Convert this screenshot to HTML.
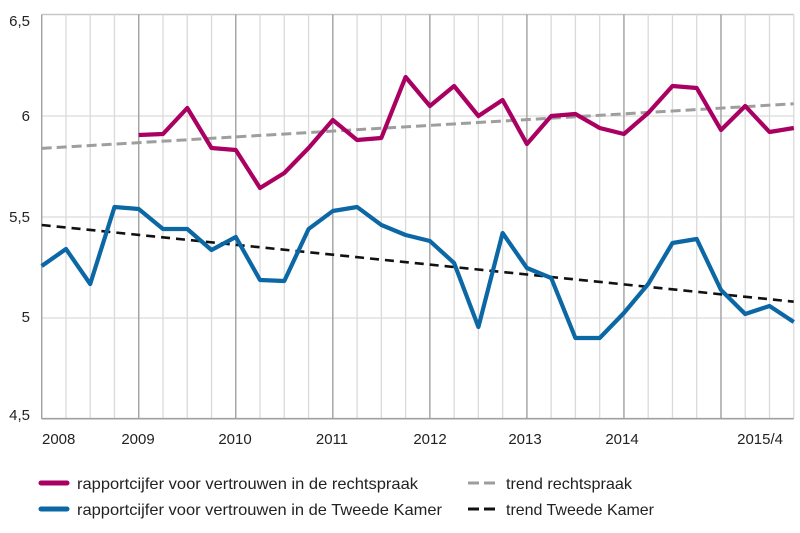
<!DOCTYPE html>
<html>
<head>
<meta charset="utf-8">
<style>
  html, body { margin: 0; padding: 0; background: #fff; }
  svg { display: block; }
  text { font-family: "Liberation Sans", "DejaVu Sans", sans-serif; fill: #222; }
</style>
</head>
<body>
<svg width="800" height="533" viewBox="0 0 800 533" xmlns="http://www.w3.org/2000/svg">
  <rect width="800" height="533" fill="#fff"/>
  <g id="grid" stroke-width="1.3">
    <!-- horizontal -->
    <line x1="41.7" y1="116" x2="793.7" y2="116" stroke="#dadada"/>
    <line x1="41.7" y1="217" x2="793.7" y2="217" stroke="#dadada"/>
    <line x1="41.7" y1="318" x2="793.7" y2="318" stroke="#dadada"/>
    <line x1="41.7" y1="14.5" x2="793.7" y2="14.5" stroke="#c8c8c8" stroke-width="1.6"/>
  </g>
  <g id="vgrid" stroke-width="1.3"></g>
  <line x1="41.7" y1="418.7" x2="793.7" y2="418.7" stroke="#a0a0a0" stroke-width="1.6"/>

  <!-- trends -->
  <line x1="41.7" y1="148.4" x2="793.7" y2="103.8" stroke="#9e9e9e" stroke-width="3" stroke-dasharray="10 5"/>
  <line x1="41.7" y1="225" x2="793.7" y2="301.7" stroke="#111" stroke-width="2.6" stroke-dasharray="9 6"/>

  <polyline id="pink" fill="none" stroke="#a90061" stroke-width="4.2" stroke-linejoin="round"/>
  <polyline id="blue" fill="none" stroke="#0b68a5" stroke-width="4.2" stroke-linejoin="round"/>

  <!-- y labels -->
  <text x="30" y="26" font-size="15" text-anchor="end">6,5</text>
  <text x="30" y="121" font-size="15" text-anchor="end">6</text>
  <text x="30" y="222" font-size="15" text-anchor="end">5,5</text>
  <text x="30" y="322" font-size="15" text-anchor="end">5</text>
  <text x="30" y="420" font-size="15" text-anchor="end">4,5</text>

  <!-- x labels -->
  <text x="42" y="444" font-size="15">2008</text>
  <text x="138" y="444" font-size="15" text-anchor="middle">2009</text>
  <text x="235" y="444" font-size="15" text-anchor="middle">2010</text>
  <text x="332" y="444" font-size="15" text-anchor="middle">2011</text>
  <text x="430" y="444" font-size="15" text-anchor="middle">2012</text>
  <text x="525" y="444" font-size="15" text-anchor="middle">2013</text>
  <text x="622" y="444" font-size="15" text-anchor="middle">2014</text>
  <text x="783" y="444" font-size="15" text-anchor="end">2015/4</text>

  <!-- legend -->
  <line x1="41" y1="483" x2="67" y2="483" stroke="#a90061" stroke-width="5" stroke-linecap="round"/>
  <text x="77" y="489" font-size="16" textLength="341" lengthAdjust="spacingAndGlyphs">rapportcijfer voor vertrouwen in de rechtspraak</text>
  <line x1="41" y1="509" x2="67" y2="509" stroke="#0b68a5" stroke-width="5" stroke-linecap="round"/>
  <text x="77" y="515" font-size="16" textLength="365" lengthAdjust="spacingAndGlyphs">rapportcijfer voor vertrouwen in de Tweede Kamer</text>

  <line x1="468" y1="483" x2="495" y2="483" stroke="#9e9e9e" stroke-width="3" stroke-dasharray="11 5"/>
  <text x="506" y="489" font-size="16" textLength="126" lengthAdjust="spacingAndGlyphs">trend rechtspraak</text>
  <line x1="468" y1="509" x2="495" y2="509" stroke="#111" stroke-width="3" stroke-dasharray="11 5"/>
  <text x="506" y="515" font-size="16" textLength="148" lengthAdjust="spacingAndGlyphs">trend Tweede Kamer</text>

  <script>
    (function(){
      var ns = "http://www.w3.org/2000/svg";
      var x0 = 41.7, dx = 24.26;
      var g = document.getElementById("vgrid");
      for (var i = 0; i <= 31; i++) {
        var x = x0 + dx * i;
        var l = document.createElementNS(ns, "line");
        l.setAttribute("x1", x); l.setAttribute("x2", x);
        l.setAttribute("y1", 14.5); l.setAttribute("y2", 418.7);
        var dark = (i % 4 === 0 && i < 31);
        l.setAttribute("stroke", dark ? "#a0a0a0" : "#dadada");
        l.setAttribute("stroke-width", dark ? "1.4" : "1.3");
        g.appendChild(l);
      }
      var pink = [135,134,108,148,150,188,173,148,120,140,138,77,106,86,116,100,144,116,114,128,134,113,86,88,130,106,132,128];
      var blue = [266,249,284,207,209,229,229,250,237,280,281,229,211,207,225,235,241,263,327,233,268,278,338,338,313,284,243,239,290,314,306,322];
      var p = [], b = [];
      for (var k = 0; k < pink.length; k++) p.push((x0 + dx*(k+4)).toFixed(1) + "," + pink[k]);
      for (var k = 0; k < blue.length; k++) b.push((x0 + dx*k).toFixed(1) + "," + blue[k]);
      document.getElementById("pink").setAttribute("points", p.join(" "));
      document.getElementById("blue").setAttribute("points", b.join(" "));
    })();
  </script>
</svg>
</body>
</html>
